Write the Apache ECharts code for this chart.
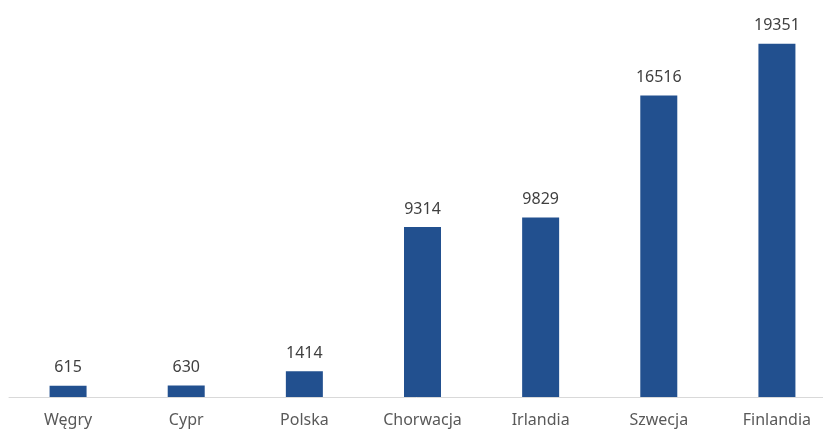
<!DOCTYPE html>
<html>
<head>
<meta charset="utf-8">
<script src="https://cdn.jsdelivr.net/npm/echarts@6/dist/echarts.min.js"></script>
<style>
  html, body { margin: 0; padding: 0; background: #ffffff; }
  #chart { width: 823px; height: 432px; }
</style>
</head>
<body>
<div id="chart"></div>
<script>
const countries = ['Węgry', 'Cypr', 'Polska', 'Chorwacja', 'Irlandia', 'Szwecja', 'Finlandia'];
const values = [615, 630, 1414, 9314, 9829, 16516, 19351];

const chart = echarts.init(document.getElementById('chart'), null, { renderer: 'canvas' });
chart.setOption({
  animation: false,
  backgroundColor: '#ffffff',
  textStyle: { fontFamily: '"Noto Sans", sans-serif' },
  // the last category runs past the right edge, so the plot is not clamped to the canvas
  grid: { left: 9, width: 827, top: 32, bottom: 35, containLabel: false, outerBoundsMode: 'none' },
  xAxis: {
    type: 'category',
    data: countries,
    axisLine: { lineStyle: { color: '#d9d9d9', width: 1 } },
    axisTick: { show: false },
    axisLabel: { color: '#595959', fontSize: 16, margin: 15 }
  },
  yAxis: {
    type: 'value',
    min: 0,
    max: 20000,
    show: false,
    splitLine: { show: false }
  },
  series: [{
    type: 'bar',
    data: values,
    barWidth: 37,
    itemStyle: { color: '#22508f' },
    label: {
      show: true,
      position: 'top',
      distance: 10,
      color: '#404040',
      fontSize: 16
    }
  }]
});
</script>
</body>
</html>
